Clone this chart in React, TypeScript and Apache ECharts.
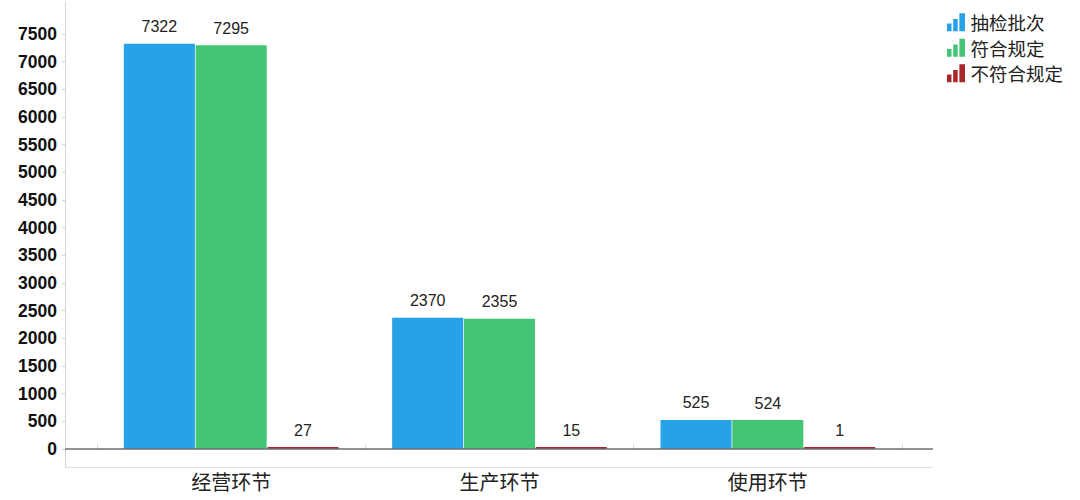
import React, { useEffect, useRef } from "react";
import * as echarts from "echarts";

const categories = ["经营环节", "生产环节", "使用环节"];
const seriesNames = ["抽检批次", "符合规定", "不符合规定"];
const sampled = [7322, 2370, 525];
const qualified = [7295, 2355, 524];
const unqualified = [27, 15, 1];
const colors = ["#27a1e8", "#43c573", "#a9262b"];

const ICON = "path://M0,9h4v7h-4z M5.5,5h4v11h-4z M11,0h5v16h-5z";

export default function App() {
  const ref = useRef<HTMLDivElement>(null);
  useEffect(() => {
    document.body.style.margin = "0";
    const chart = echarts.init(ref.current!, null, { renderer: "svg" });
    const values = [sampled, qualified, unqualified];
    chart.setOption({
      animation: false,
      backgroundColor: "#ffffff",
      legend: {
        orient: "vertical",
        left: 942,
        top: 8,
        itemWidth: 19,
        itemHeight: 18,
        itemGap: 7,
        icon: ICON,
        textStyle: { fontSize: 18.5, color: "#222", fontFamily: "Noto Sans CJK SC" },
        data: seriesNames,
      },
      grid: { left: 97, right: 178, top: 34, bottom: 51 },
      xAxis: {
        type: "category",
        data: categories,
        offset: 18,
        axisLine: { show: false },
        axisTick: { show: true, inside: true, length: 5, lineStyle: { color: "#dcdcdc" } },
        axisLabel: {
          fontSize: 20,
          color: "#222",
          margin: 4,
          fontFamily: "Noto Sans CJK SC",
        },
      },
      yAxis: {
        type: "value",
        min: 0,
        max: 7500,
        interval: 500,
        offset: 32,
        axisLine: { show: false },
        axisTick: { show: true, length: 3, lineStyle: { color: "#d6d6d6" } },
        splitLine: { show: false },
        axisLabel: {
          fontSize: 17.5,
          fontWeight: "bold",
          color: "#111",
          margin: 8,
          fontFamily: "Liberation Sans",
          formatter: (v: number) => String(v),
        },
      },
      graphic: [
        { type: "line", shape: { x1: 65.5, y1: 2, x2: 65.5, y2: 467 }, style: { stroke: "#d4d4d4", lineWidth: 1 }, z: 1 },
        { type: "line", shape: { x1: 65, y1: 467.5, x2: 933, y2: 467.5 }, style: { stroke: "#e2e2e2", lineWidth: 1 }, z: 1 },
        { type: "line", shape: { x1: 65, y1: 449, x2: 933, y2: 449 }, style: { stroke: "#6e6e6e", lineWidth: 1.5 }, z: 100 },
      ],
      series: seriesNames.map((name, i) => ({
        name,
        type: "bar",
        data: values[i],
        barGap: "1%",
        barCategoryGap: "20%",
        barMinHeight: 2,
        itemStyle: { color: colors[i] },
        label: {
          show: true,
          position: "top",
          distance: 9,
          fontSize: 16,
          color: "#222",
          fontFamily: "Liberation Sans",
        },
      })),
    });
    return () => chart.dispose();
  }, []);
  return <div ref={ref} style={{ width: 1080, height: 500 }} />;
}
